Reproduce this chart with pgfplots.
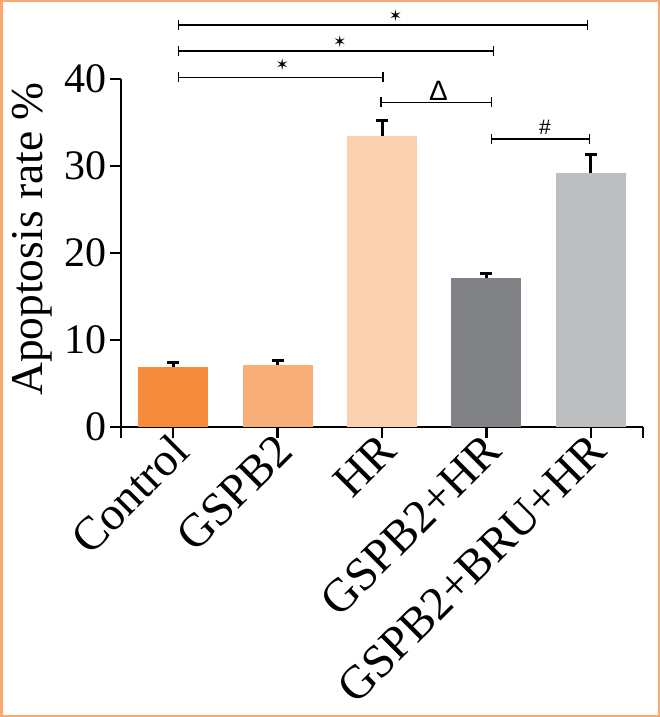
\documentclass[border=0pt]{standalone}
\usepackage{pgfplots}
\pgfplotsset{compat=1.18}
\usepackage{fontspec}
\setmainfont{Liberation Serif}
\newfontfamily\sansf{Liberation Sans}
\newfontfamily\dejavu{DejaVu Sans}
\definecolor{cA}{HTML}{F68B3D}
\definecolor{cB}{HTML}{F8AE78}
\definecolor{cC}{HTML}{FBD1B2}
\definecolor{cD}{HTML}{808285}
\definecolor{cE}{HTML}{BCBEC0}
\definecolor{frame}{HTML}{F9A870}
\begin{document}
\begin{tikzpicture}[x=1pt,y=1pt]
\path[use as bounding box] (0,0) rectangle (660,-717);
\draw[color=frame, line width=2.5pt] (1.25,-1.25) rectangle (658.75,-715.75);
\begin{axis}[
  at={(121pt,-427pt)}, anchor=south west,
  scale only axis, width=522pt, height=348pt,
  xmin=-0.5, xmax=4.5, ymin=0, ymax=40,
  axis lines=left,
  axis line style={-, line width=2.5pt, black},
  xtick={0,1,2,3,4},
  xticklabels={Control,GSPB2,HR,GSPB2+HR,GSPB2+BRU+HR},
  extra x ticks={-0.5,4.5}, extra x tick labels={},
  ytick={0,10,20,30,40},
  tick align=outside, major tick length=11pt,
  tick style={line width=2.5pt, black},
  x tick label style={rotate=45, anchor=north east, font=\fontsize{47}{51}\selectfont, inner sep=0pt, xshift=1.5pt, yshift=8pt},
  y tick label style={font=\fontsize{42}{46}\selectfont, inner sep=3pt},
  ylabel={Apoptosis rate \%},
  ylabel style={font=\fontsize{45.5}{48}\selectfont, at={(axis description cs:-0.1705,0.540)}, anchor=center},
  /pgf/number format/assume math mode=true,
  clip=false,
  error bars/y dir=plus, error bars/y explicit,
  error bars/error bar style={line width=3pt, black},
  error bars/error mark options={rotate=90, line width=3pt, black, mark size=6pt},
]
\addplot[ybar, bar width=70pt, bar shift=0pt, fill=cA, draw=none] coordinates {(0,6.9) +- (0,0.55)};
\addplot[ybar, bar width=70pt, bar shift=0pt, fill=cB, draw=none] coordinates {(1,7.1) +- (0,0.5)};
\addplot[ybar, bar width=70pt, bar shift=0pt, fill=cC, draw=none] coordinates {(2,33.45) +- (0,1.75)};
\addplot[ybar, bar width=70pt, bar shift=0pt, fill=cD, draw=none] coordinates {(3,17.1) +- (0,0.58)};
\addplot[ybar, bar width=70pt, bar shift=0pt, fill=cE, draw=none] coordinates {(4,29.2) +- (0,2.1)};
% significance brackets
\addplot[black, line width=1.4pt, mark=|, mark size=5pt, mark options={line width=1.4pt}] coordinates {(0.05,46.2) (3.97,46.2)};
\addplot[black, line width=1.4pt, mark=|, mark size=5pt, mark options={line width=1.4pt}] coordinates {(0.05,43.2) (3.07,43.2)};
\addplot[black, line width=1.4pt, mark=|, mark size=5pt, mark options={line width=1.4pt}] coordinates {(0.05,40.2) (2.01,40.2)};
\addplot[black, line width=1.4pt, mark=|, mark size=5pt, mark options={line width=1.4pt}] coordinates {(1.99,37.3) (3.05,37.3)};
\addplot[black, line width=1.4pt, mark=|, mark size=5pt, mark options={line width=1.4pt}] coordinates {(3.05,33.1) (3.99,33.1)};
\node[font=\dejavu\fontsize{16}{18}\selectfont] at (axis cs:2.13,47.3) {✶};
\node[font=\dejavu\fontsize{16}{18}\selectfont] at (axis cs:1.595,44.25) {✶};
\node[font=\dejavu\fontsize{16}{18}\selectfont] at (axis cs:1.045,41.7) {✶};
\node[font=\sansf\fontsize{28}{30}\selectfont] at (axis cs:2.54,38.66) {Δ};
\node[font=\sansf\fontsize{21}{23}\selectfont] at (axis cs:3.56,34.4) {\#};
\end{axis}
\end{tikzpicture}
\end{document}
